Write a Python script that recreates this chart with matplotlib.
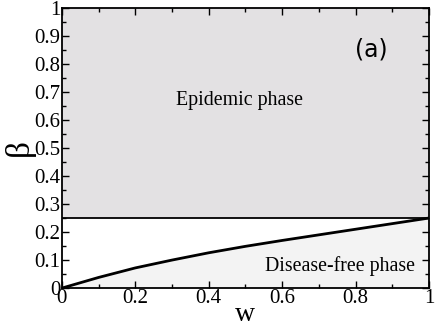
import numpy as np
import matplotlib.pyplot as plt
from matplotlib.ticker import MultipleLocator

# phase boundary
w = [0.0, 0.1, 0.2, 0.3, 0.4, 0.5, 0.6, 0.7, 0.8, 0.9, 1.0]
beta_c = [0.0, 0.038, 0.072, 0.100, 0.126, 0.149, 0.170, 0.190, 0.210, 0.230, 0.250]
beta_top = 0.25

plt.rcParams['font.family'] = ['Liberation Serif', 'DejaVu Serif']

fig = plt.figure(figsize=(4.36, 3.27), dpi=100)
ax = fig.add_axes([0.142, 0.119, 0.842, 0.857])

ax.fill_between([0, 1], beta_top, 1, color='#e3e1e3', lw=0)
ax.fill_between(w, 0, beta_c, color='#f3f3f3', lw=0)
ax.axhline(beta_top, color='black', lw=1.3)
ax.plot(w, beta_c, color='black', lw=2)

ax.set_xlim(0, 1)
ax.set_ylim(0, 1)
ax.xaxis.set_minor_locator(MultipleLocator(0.1))
ax.yaxis.set_minor_locator(MultipleLocator(0.05))
ax.set_xticks([0, 0.2, 0.4, 0.6, 0.8, 1])
ax.set_xticklabels(['0', '0.2', '0.4', '0.6', '0.8', '1'])
ax.set_yticks(np.arange(0, 1.01, 0.1))
ax.set_yticklabels(['0', '0.1', '0.2', '0.3', '0.4', '0.5', '0.6', '0.7', '0.8', '0.9', '1'])
ax.tick_params(which='both', direction='in', top=True, right=True, labelsize=15, pad=1)
ax.tick_params(which='major', length=5, width=1)
ax.tick_params(which='minor', length=3, width=1)
for s in ax.spines.values():
    s.set_linewidth(1.3)

ax.set_xlabel('w', fontsize=20, labelpad=-5)
ax.set_ylabel('β', fontsize=24, labelpad=0)

ax.text(0.485, 0.67, 'Epidemic phase', fontsize=14.3, ha='center', va='center')
ax.text(0.962, 0.079, 'Disease-free phase', fontsize=14.3, ha='right', va='center')
ax.text(0.842, 0.85, '(a)', fontsize=17, ha='center', va='center', family='DejaVu Sans')

fig.savefig('out.png', dpi=100)
